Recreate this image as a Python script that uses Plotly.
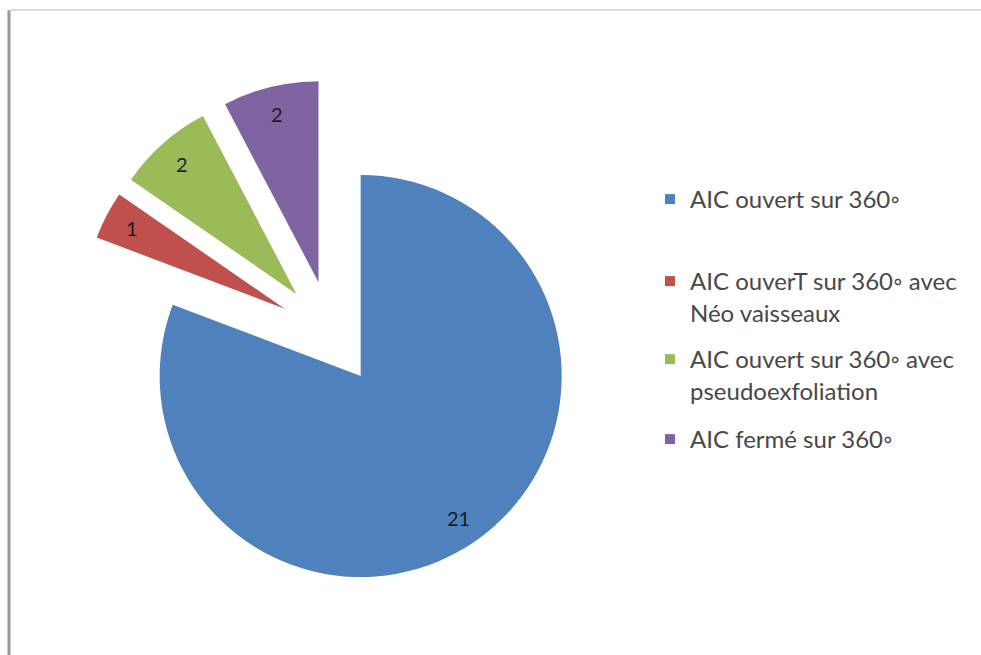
import math
import plotly.graph_objects as go

# Répartition des aspects de l'angle irido-cornéen (AIC)
labels = [
    "AIC ouvert sur 360◦",
    "AIC ouverT sur 360◦ avec<br>Néo vaisseaux",
    "AIC ouvert sur 360◦ avec<br>pseudoexfoliation",
    "AIC fermé sur 360◦",
]
values = [21, 1, 2, 2]
colors = ["#4F81BD", "#C0504D", "#9BBB59", "#8064A2"]

W, H = 981, 655
FONT = "Lato"
PULL = 0.26
DOM_X = [0.0792, 0.5956]
DOM_Y = [0.1049, 0.8783]

fig = go.Figure()

fig.add_trace(go.Pie(
    labels=labels,
    values=values,
    marker=dict(colors=colors),
    sort=False,
    direction="clockwise",
    rotation=0,
    pull=PULL,
    textinfo="none",
    domain=dict(x=DOM_X, y=DOM_Y),
    showlegend=False,
    hoverinfo="label+value+percent",
))

# value labels placed along each slice's mid-angle, following the pie's own geometry
box = min((DOM_X[1] - DOM_X[0]) * W, (DOM_Y[1] - DOM_Y[0]) * H)
r = box / (2 + 2 * PULL)
cx = W * (DOM_X[0] + DOM_X[1]) / 2
cy = H * (1 - (DOM_Y[0] + DOM_Y[1]) / 2)
total = sum(values)
cum = 0
annotations = []
for v in values:
    theta = math.radians((cum + v / 2) / total * 360)
    cum += v
    dx, dy = math.sin(theta), -math.cos(theta)
    dist = PULL * r + 0.86 * r
    px, py = cx + dist * dx, cy + dist * dy
    annotations.append(dict(
        x=px / W, y=1 - py / H, xref="paper", yref="paper",
        xanchor="center", yanchor="middle",
        text=str(v), showarrow=False,
        font=dict(family=FONT, size=20, color="#1c1c1c"),
    ))

# legend entries: one legend per category, spaced evenly down the right side
legend_tops = [177, 259, 337, 417]
for i, (lab, col) in enumerate(zip(labels, colors)):
    name = "legend" if i == 0 else f"legend{i + 1}"
    fig.add_trace(go.Scatter(
        x=[None], y=[None], mode="markers", name=lab,
        marker=dict(symbol="square", size=10, color=col),
        legend=name, showlegend=True, hoverinfo="skip",
    ))
    fig.update_layout({name: dict(
        x=650 / W, xanchor="left",
        y=1 - legend_tops[i] / H, yanchor="top",
        bgcolor="rgba(0,0,0,0)", borderwidth=0,
        valign="top",
        font=dict(family=FONT, size=24, color="#484848"),
    )})

fig.update_layout(
    width=W, height=H,
    margin=dict(l=0, r=0, t=0, b=0),
    paper_bgcolor="white", plot_bgcolor="white",
    xaxis=dict(visible=False), yaxis=dict(visible=False),
    annotations=annotations,
    shapes=[
        dict(type="line", xref="paper", yref="paper",
             x0=9 / W, x1=9 / W, y0=0, y1=1 - 10 / H,
             line=dict(color="#9a9a9a", width=3)),
        dict(type="line", xref="paper", yref="paper",
             x0=9 / W, x1=1, y0=1 - 10 / H, y1=1 - 10 / H,
             line=dict(color="#dcdcdc", width=2)),
    ],
)

fig.write_html("out.html")
